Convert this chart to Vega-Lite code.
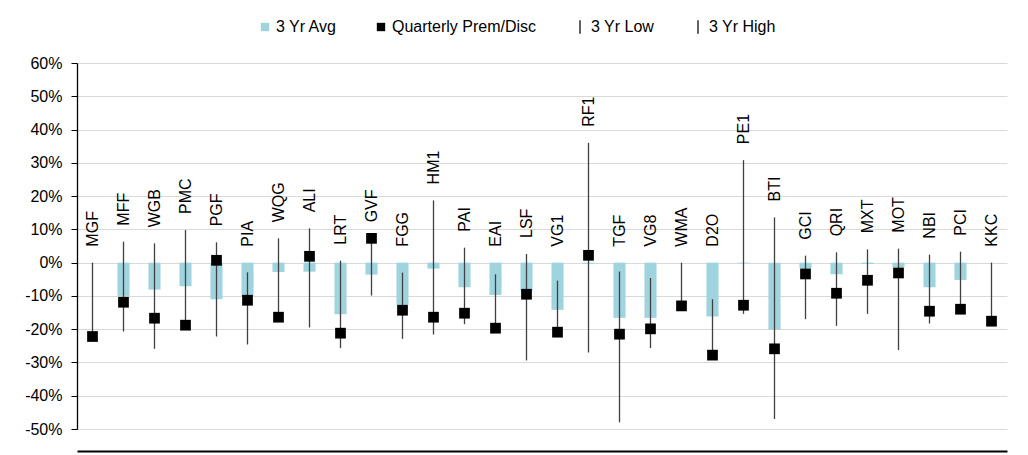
{
  "$schema": "https://vega.github.io/schema/vega-lite/v6.json",
  "width": 930,
  "height": 366,
  "autosize": "none",
  "padding": {"left": 77, "top": 63, "right": 21, "bottom": 26},
  "background": "white",
  "config": {
    "font": "Liberation Sans",
    "view": {"stroke": null},
    "axisY": {
      "values": [-50, -40, -30, -20, -10, 0, 10, 20, 30, 40, 50, 60],
      "labelExpr": "datum.value + '%'",
      "domainColor": "#000",
      "domainWidth": 1.3,
      "tickColor": "#000",
      "tickSize": 6,
      "labelPadding": 9,
      "labelFontSize": 16,
      "labelColor": "#000",
      "gridColor": "#d9d9d9",
      "gridWidth": 1,
      "grid": true
    }
  },
  "data": {
    "values": [
      {"fund": "MGF", "avg": 0, "prem": -22.2, "low": -22.2, "high": 0},
      {"fund": "MFF", "avg": -10, "prem": -11.9, "low": -20.7, "high": 6.3},
      {"fund": "WGB", "avg": -8.1, "prem": -16.7, "low": -25.9, "high": 5.8},
      {"fund": "PMC", "avg": -7.1, "prem": -18.8, "low": -18.9, "high": 9.8},
      {"fund": "PGF", "avg": -11, "prem": 0.7, "low": -22.2, "high": 6.1},
      {"fund": "PIA", "avg": -10, "prem": -11.3, "low": -24.6, "high": -2.9},
      {"fund": "WQG", "avg": -2.8, "prem": -16.4, "low": -16.4, "high": 7.3},
      {"fund": "ALI", "avg": -2.7, "prem": 1.9, "low": -19.5, "high": 10.3},
      {"fund": "LRT", "avg": -15.5, "prem": -21.2, "low": -25.7, "high": 0.6},
      {"fund": "GVF", "avg": -3.6, "prem": 7.3, "low": -9.9, "high": 7.3},
      {"fund": "FGG", "avg": -12.7, "prem": -14.3, "low": -22.9, "high": -3},
      {"fund": "HM1", "avg": -1.8, "prem": -16.4, "low": -21.6, "high": 18.7},
      {"fund": "PAI", "avg": -7.4, "prem": -15.2, "low": -18.5, "high": 4.5},
      {"fund": "EAI", "avg": -9.7, "prem": -19.7, "low": -19.7, "high": -3.5},
      {"fund": "LSF", "avg": -8.5, "prem": -9.5, "low": -29.4, "high": 2.6},
      {"fund": "VG1", "avg": -14.2, "prem": -20.9, "low": -20.9, "high": -5.4},
      {"fund": "RF1", "avg": -0.3, "prem": 2.2, "low": -27, "high": 36},
      {"fund": "TGF", "avg": -16.6, "prem": -21.5, "low": -48, "high": -2.7},
      {"fund": "VG8", "avg": -16.6, "prem": -19.9, "low": -25.7, "high": -4.6},
      {"fund": "WMA", "avg": 0, "prem": -13, "low": -13, "high": 0},
      {"fund": "D2O", "avg": -16.2, "prem": -27.8, "low": -27.8, "high": -11},
      {"fund": "PE1", "avg": -0.2, "prem": -12.8, "low": -15.4, "high": 30.8},
      {"fund": "BTI", "avg": -20.2, "prem": -25.9, "low": -47, "high": 13.6},
      {"fund": "GCI", "avg": -1.8, "prem": -3.4, "low": -17, "high": 2.1},
      {"fund": "QRI", "avg": -3.5, "prem": -9.2, "low": -19, "high": 3.1},
      {"fund": "MXT", "avg": -0.4, "prem": -5.3, "low": -15.4, "high": 4},
      {"fund": "MOT", "avg": -1.4, "prem": -3.1, "low": -26.3, "high": 4.2},
      {"fund": "NBI", "avg": -7.4, "prem": -14.6, "low": -18.3, "high": 2.4},
      {"fund": "PCI", "avg": -5.2, "prem": -14, "low": -14, "high": 3.3},
      {"fund": "KKC", "avg": 0, "prem": -17.6, "low": -17.6, "high": 0}
    ]
  },
  "encoding": {
    "x": {
      "field": "fund",
      "type": "nominal",
      "sort": null,
      "scale": {
        "domain": ["MGF","MFF","WGB","PMC","PGF","PIA","WQG","ALI","LRT","GVF","FGG","HM1","PAI","EAI","LSF","VG1","RF1","TGF","VG8","WMA","D2O","PE1","BTI","GCI","QRI","MXT","MOT","NBI","PCI","KKC"],
        "paddingInner": 0,
        "paddingOuter": 0
      },
      "axis": {"title": null, "labels": false, "ticks": false, "grid": false, "domain": true, "domainColor": "#000", "domainWidth": 2, "offset": 22}
    }
  },
  "layer": [
    {
      "mark": {"type": "bar", "width": {"band": 0.39}},
      "encoding": {
        "y": {"field": "avg", "type": "quantitative", "title": null, "scale": {"domain": [-50, 60], "nice": false, "zero": false}},
        "color": {
          "datum": "3 Yr Avg",
          "type": "nominal",
          "scale": {
            "domain": ["3 Yr Avg", "Quarterly Prem/Disc", "3 Yr Low", "3 Yr High"],
            "range": ["#9fd4df", "#000000", "#222222", "#222222"]
          },
          "legend": {
            "orient": "none", "legendX": 180, "legendY": -44, "direction": "horizontal",
            "title": null, "symbolSize": 70, "labelFontSize": 16, "labelColor": "#000",
            "columnPadding": 35, "labelOffset": 3, "symbolStrokeWidth": 0, "symbolOpacity": 1
          }
        }
      }
    },
    {
      "mark": {"type": "rule", "color": "#404040", "strokeWidth": 1.3},
      "encoding": {
        "y": {"field": "low", "type": "quantitative", "title": null},
        "y2": {"field": "high"}
      }
    },
    {
      "mark": {"type": "point", "filled": true, "size": 115, "opacity": 1},
      "encoding": {
        "y": {"field": "prem", "type": "quantitative", "title": null},
        "color": {"datum": "Quarterly Prem/Disc", "type": "nominal"},
        "shape": {
          "datum": "Quarterly Prem/Disc",
          "type": "nominal",
          "scale": {
            "domain": ["3 Yr Avg", "Quarterly Prem/Disc", "3 Yr Low", "3 Yr High"],
            "range": ["square", "square", "M-0.17,-1.6H0.17V1.6H-0.17Z", "M-0.17,-1.6H0.17V1.6H-0.17Z"]
          },
          "legend": {
            "orient": "none", "legendX": 180, "legendY": -44, "direction": "horizontal",
            "title": null, "symbolSize": 70, "labelFontSize": 16, "labelColor": "#000",
            "columnPadding": 35, "labelOffset": 3, "symbolStrokeWidth": 0, "symbolOpacity": 1
          }
        }
      }
    },
    {
      "transform": [{"filter": "datum.high >= 0"}],
      "mark": {"type": "text", "angle": 270, "align": "left", "baseline": "middle", "dx": 16, "fontSize": 16, "color": "#000"},
      "encoding": {
        "y": {"field": "high", "type": "quantitative", "title": null},
        "text": {"field": "fund"}
      }
    },
    {
      "transform": [{"filter": "datum.high < 0"}],
      "mark": {"type": "text", "angle": 270, "align": "left", "baseline": "middle", "dx": 16, "fontSize": 16, "color": "#000"},
      "encoding": {
        "y": {"datum": 0, "type": "quantitative"},
        "text": {"field": "fund"}
      }
    }
  ]
}
